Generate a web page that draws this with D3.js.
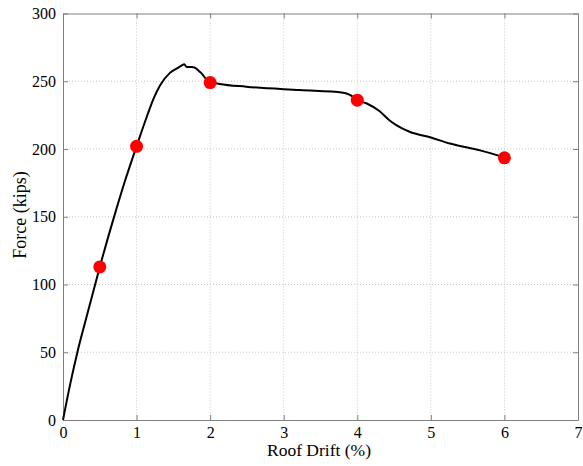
<!DOCTYPE html>
<html><head><meta charset="utf-8">
<script src="https://cdn.jsdelivr.net/npm/d3@7"></script>
<style>body{margin:0;background:#fff}svg{display:block}</style>
</head><body><svg id="c" width="583" height="466"></svg>
<script>
const curveX = [0,0.1,0.2,0.3,0.5,0.7,0.84,0.95,1.0,1.14,1.23,1.32,1.45,1.55,1.61,1.65,1.67,1.69,1.75,1.79,1.84,1.88,1.94,2.0,2.13,2.49,3.22,3.81,3.9,4.0,4.13,4.3,4.44,4.53,4.71,5.0,5.26,5.67,6.0];
const curveY = [0,27,51,72,113,151,176,194,202,224,237,247,256,259.5,261.5,262.5,261,260.5,260.5,260,258,256,252,249.5,248,246,243.5,241.6,240,236,233.6,228,221,217.6,212.7,208.5,204,199,193.8];
const markX = [0.5,1,2,4,6];
const markY = [113,202,249,236,193.5];
const xTicks = [0,1,2,3,4,5,6,7];
const yTicks = [0,50,100,150,200,250,300];

const svg = d3.select('#c');
const L = 63, R = 578, T = 13.5, B = 420;
const x = d3.scaleLinear().domain([0,7]).range([L,R]);
const y = d3.scaleLinear().domain([0,300]).range([B,T]);
const font = "'Liberation Serif','Times New Roman',serif";

// grid
const g = svg.append('g');
xTicks.slice(1,-1).forEach(t=>g.append('line').attr('x1',x(t)).attr('x2',x(t)).attr('y1',T).attr('y2',B)
  .attr('stroke','#c8c8c8').attr('stroke-width',1).attr('stroke-dasharray','1,2'));
yTicks.slice(1,-1).forEach(t=>g.append('line').attr('x1',L).attr('x2',R).attr('y1',y(t)).attr('y2',y(t))
  .attr('stroke','#c8c8c8').attr('stroke-width',1).attr('stroke-dasharray','1,2'));

// axes
const fmt = d3.format('d');
const ax = svg.append('g').attr('transform',`translate(0,${B})`).call(d3.axisBottom(x).tickValues(xTicks).tickFormat(fmt).tickSizeInner(-5).tickSizeOuter(0).tickPadding(7));
const ay = svg.append('g').attr('transform',`translate(${L},0)`).call(d3.axisLeft(y).tickValues(yTicks).tickFormat(fmt).tickSizeInner(-5).tickSizeOuter(0).tickPadding(7));
const axT = svg.append('g').attr('transform',`translate(0,${T})`).call(d3.axisTop(x).tickValues(xTicks).tickSizeInner(-5).tickSizeOuter(0).tickFormat(''));
const ayR = svg.append('g').attr('transform',`translate(${R},0)`).call(d3.axisRight(y).tickValues(yTicks).tickSizeInner(-5).tickSizeOuter(0).tickFormat(''));
[ax,ay,axT,ayR].forEach(a=>{
  a.attr('font-family',font);
  a.selectAll('path,line').attr('stroke','#808080').attr('stroke-width',1);
  a.selectAll('text').attr('fill','#000').style('font-family',font).style('font-size','16px');
});

// curve
svg.append('path').datum(curveX.map((d,i)=>[d,curveY[i]]))
  .attr('d',d3.line().x(d=>x(d[0])).y(d=>y(d[1])).curve(d3.curveMonotoneX))
  .attr('fill','none').attr('stroke','#000').attr('stroke-width',2);

// markers
svg.selectAll('circle.m').data(markX).join('circle').attr('class','m')
  .attr('cx',d=>x(d)).attr('cy',(d,i)=>y(markY[i])).attr('r',6.5).attr('fill','#ff0000');

// labels
svg.append('text').attr('x',319).attr('y',456).attr('text-anchor','middle')
  .style('font-family',font).style('font-size','17.5px').text('Roof Drift (%)');
svg.append('text').attr('transform',`translate(26,215) rotate(-90)`).attr('text-anchor','middle')
  .style('font-family',font).style('font-size','18px').text('Force (kips)');
</script></body></html>
